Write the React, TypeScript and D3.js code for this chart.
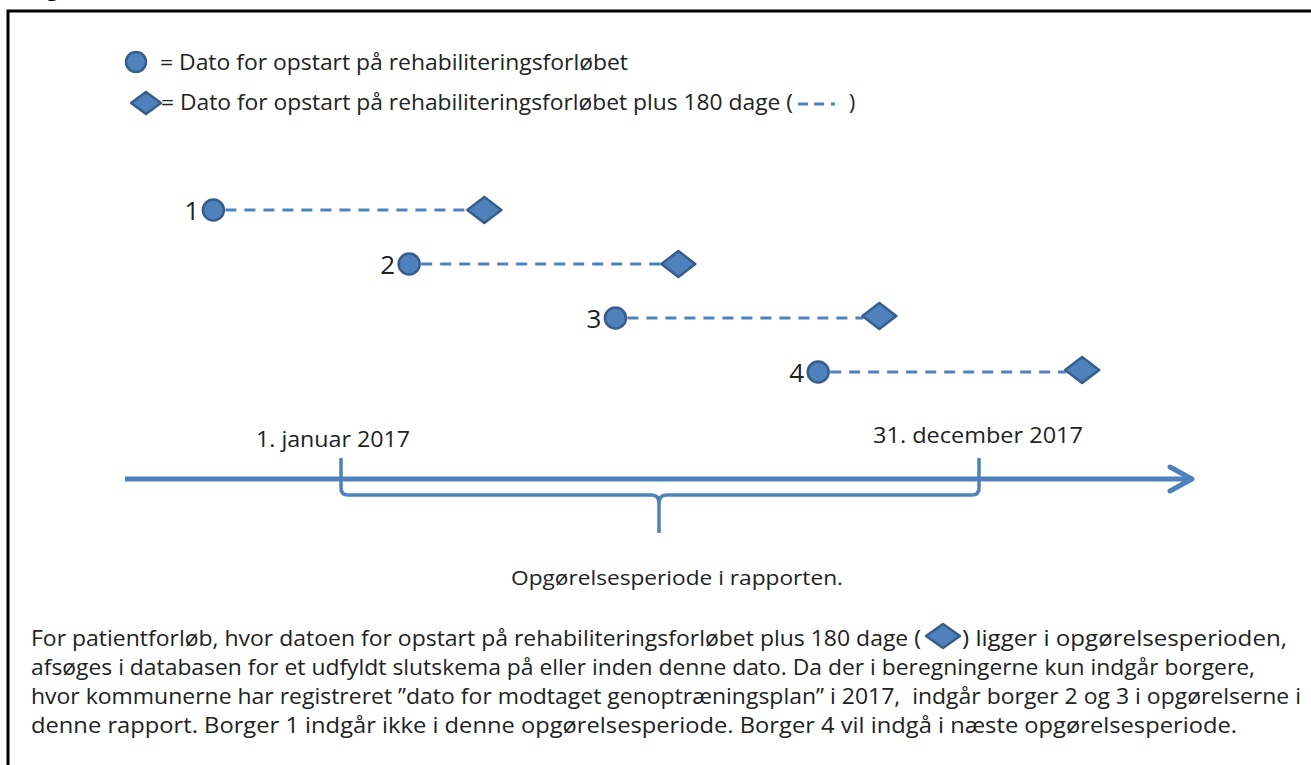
import * as d3 from "d3";

// rows (borger) and their start / start+180 days, counted from 1. januar 2017
const rows = ["1", "2", "3", "4"];
const startDays = [-73, 39, 157, 273];
const endDays = [82, 193, 308, 424];

// period markers on the time axis
const periodLabels = ["1. januar 2017", "31. december 2017"];
const periodDays = [0, 365];

const legendLines = [
  "= Dato for opstart på rehabiliteringsforløbet",
  "= Dato for opstart på rehabiliteringsforløbet plus 180 dage (",
];

const periodCaption = "Opgørelsesperiode i rapporten.";

const noteLines = [
  "afsøges i databasen for et udfyldt slutskema på eller inden denne dato. Da der i beregningerne kun indgår borgere,",
  "hvor kommunerne har registreret \u201ddato for modtaget genoptræningsplan\u201d i 2017,  indgår borger 2 og 3 i opgørelserne i",
  "denne rapport. Borger 1 indgår ikke i denne opgørelsesperiode. Borger 4 vil indgå i næste opgørelsesperiode.",
];
const noteFirstA = "For patientforløb, hvor datoen for opstart på rehabiliteringsforløbet plus 180 dage (";
const noteFirstB = ") ligger i opgørelsesperioden,";

const W = 1311;
const H = 765;
const blue = "#4F81BD";
const dark = "#385D8A";
const ink = "#222";
const font = "'Open Sans', 'Noto Sans', sans-serif";

const x = d3.scaleLinear().domain([0, 365]).range([341, 979]);
const y = d3.scalePoint<string>().domain(rows).range([210, 372]);

const diamond = (cx: number, cy: number, hw: number, hh: number) =>
  `M${cx - hw},${cy} L${cx},${cy - hh} L${cx + hw},${cy} L${cx},${cy + hh} Z`;

const App = () => {
  const axisY = 479;
  const braceY = 495;
  const tickTop = 458;
  const x0 = x(periodDays[0]);
  const x1 = x(periodDays[1]);
  const mid = (x0 + x1) / 2 - 1;
  const brace =
    `M${x0},${tickTop} V${braceY - 7} Q${x0},${braceY} ${x0 + 7},${braceY} H${mid - 7} ` +
    `Q${mid},${braceY} ${mid},${braceY + 9} V${braceY + 38} M${mid},${braceY + 9} ` +
    `Q${mid},${braceY} ${mid + 7},${braceY} H${x1 - 7} Q${x1},${braceY} ${x1},${braceY - 7} V${tickTop}`;

  const noteWidths = [1224, 1270, 1206];

  return (
    <svg
      width={W}
      height={H}
      style={{ position: "absolute", left: 0, top: 0, display: "block", background: "#fff" }}
      fontFamily={font}
    >
      <rect width={W} height={H} fill="#fff" />
      {/* cut-off figure heading (only its descenders show) */}
      <text x={28} y={-4} fontSize={22} fontWeight="bold" fill="#000">
        Figur 2. Illustration af dato for metode
      </text>
      {/* frame */}
      <path d={`M8,${H} V11 H${W}`} fill="none" stroke="#000" strokeWidth={3} />

      {/* legend */}
      <circle cx={136} cy={62} r={10} fill={blue} stroke={dark} strokeWidth={2.5} />
      <text x={160} y={70} fontSize={21} fill={ink} textLength={468} lengthAdjust="spacingAndGlyphs">
        {legendLines[0]}
      </text>
      <path d={diamond(146, 103, 15, 11)} fill={blue} stroke={dark} strokeWidth={2.5} strokeLinejoin="round" />
      <text x={161} y={110} fontSize={21} fill={ink} textLength={632} lengthAdjust="spacingAndGlyphs">
        {legendLines[1]}
      </text>
      <line x1={798} x2={842} y1={104} y2={104} stroke={blue} strokeWidth={3} strokeDasharray="10 6 10 7 4 100" />
      <text x={849} y={110} fontSize={21} fill={ink}>)</text>

      {/* rows */}
      {rows.map((r, i) => {
        const cy = y(r) as number;
        const sx = x(startDays[i]);
        const ex = x(endDays[i]);
        return (
          <g key={r}>
            <line x1={sx + 12} x2={ex - 16} y1={cy} y2={cy} stroke={blue} strokeWidth={3} strokeDasharray="11 8" />
            <circle cx={sx} cy={cy} r={10.5} fill={blue} stroke={dark} strokeWidth={2.5} />
            <path d={diamond(ex, cy - (i > 1 ? 2 : 0), 17, 13)} fill={blue} stroke={dark} strokeWidth={2.5} strokeLinejoin="round" />
            <text x={sx - 14} y={cy + 10} fontSize={26} fill={ink} textAnchor="end">{r}</text>
          </g>
        );
      })}

      {/* period labels */}
      <text x={333} y={447} fontSize={21} fill={ink} textAnchor="middle" textLength={154} lengthAdjust="spacingAndGlyphs">
        {periodLabels[0]}
      </text>
      <text x={978} y={443} fontSize={21} fill={ink} textAnchor="middle" textLength={210} lengthAdjust="spacingAndGlyphs">
        {periodLabels[1]}
      </text>

      {/* time axis with arrow */}
      <line x1={125} x2={1190} y1={axisY} y2={axisY} stroke={blue} strokeWidth={5} />
      <path d={`M1170,${axisY - 12} L1192,${axisY} L1170,${axisY + 12}`} fill="none" stroke={blue} strokeWidth={5} strokeLinecap="round" strokeLinejoin="round" />
      <path d={brace} fill="none" stroke={blue} strokeWidth={3.5} strokeLinejoin="round" />

      <text x={677} y={585} fontSize={20} fill={ink} textAnchor="middle" textLength={332} lengthAdjust="spacingAndGlyphs">
        {periodCaption}
      </text>

      {/* explanatory note */}
      <text x={31} y={646} fontSize={21} fill={ink} textLength={890} lengthAdjust="spacingAndGlyphs">
        {noteFirstA}
      </text>
      <path d={diamond(943, 636, 17, 12)} fill={blue} stroke={dark} strokeWidth={2.5} strokeLinejoin="round" />
      <text x={962} y={646} fontSize={21} fill={ink} textLength={325} lengthAdjust="spacingAndGlyphs">
        {noteFirstB}
      </text>
      {noteLines.map((t, i) => (
        <text key={i} x={31} y={675 + i * 29} fontSize={21} fill={ink} style={{ whiteSpace: "pre" }} textLength={noteWidths[i]} lengthAdjust="spacingAndGlyphs">
          {t}
        </text>
      ))}
    </svg>
  );
};

export default App;
